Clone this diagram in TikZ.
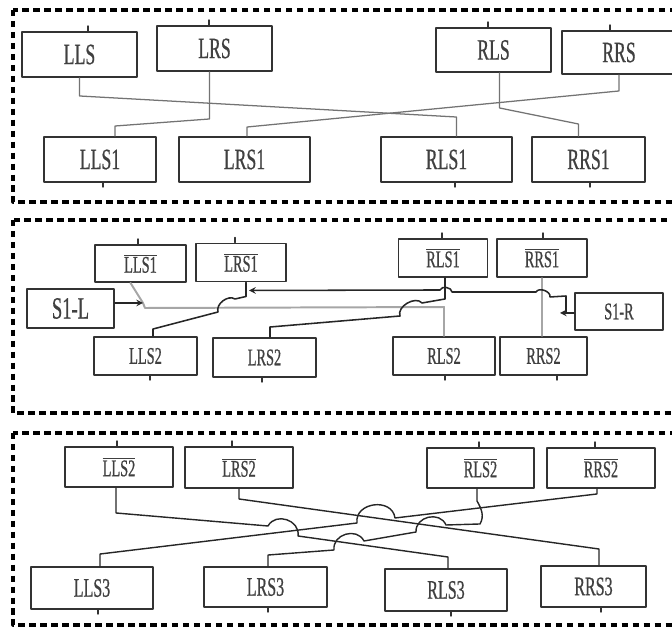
\documentclass[tikz,border=0pt]{standalone}
\usepackage{fontspec}
\newfontfamily\boxfont[FakeStretch=0.6,FakeBold=0.6]{Liberation Serif}
\usetikzlibrary{calc}
\newcommand{\nbar}[1]{$\overline{\hbox{#1}}$}
\begin{document}
\begin{tikzpicture}[x=0.025cm,y=0.025cm,line join=round,line cap=round,>=stealth]
	\def\px{0.025cm}
	\tikzset{blk/.style 2 args={draw=black!80,line width=1.4pt,fill=white,inner sep=0pt,text=black!75,minimum width=#1*\px,minimum height=#2*\px},
		fa/.style={font=\boxfont\fontsize{21}{21}\selectfont},
		fb/.style={font=\boxfont\fontsize{17}{17}\selectfont},
		fc/.style={font=\boxfont\fontsize{19}{19}\selectfont},
		panel/.style={line width=2.2pt,line cap=butt,dash pattern=on 4.6pt off 3.2pt},
		wa/.style={draw=black!55,line width=0.9pt},
		wb/.style={draw=black!85,line width=1.1pt},
		wg/.style={draw=black!35,line width=1.4pt},
		wc/.style={draw=black!85,line width=1pt},
		tick/.style={draw=black!80,line width=1pt}}
	\useasboundingbox (0,0) rectangle (672,-628);
	\clip (0,0) rectangle (672,-628);
	%panels
	\draw[panel] (13,-10) rectangle (690,-202);
	\draw[panel] (13,-220) rectangle (690,-413);
	\draw[panel] (13,-433) rectangle (690,-625);
	%first stage
	\node[blk={115}{45},fa] (LLS) at (79.5,-54.5) {LLS};
	\node[blk={115}{45},fa] (LRS) at (214.5,-48.5) {LRS};
	\node[blk={115}{44},fa] (RLS) at (493.5,-50) {RLS};
	\node[blk={114}{43},fa] (RRS) at (619,-52.5) {RRS};
	\node[blk={112}{45},fa] (LLS1) at (100,-159.5) {LLS1};
	\node[blk={131}{45},fa] (LRS1) at (244.5,-159.5) {LRS1};
	\node[blk={131}{45},fa] (RLS1) at (446.5,-159.5) {RLS1};
	\node[blk={113}{45},fa] (RRS1) at (588.5,-159.5) {RRS1};
	\draw[wa] (LLS.south) -- ++(0,-18) -- ($(RLS1.north)+(10,19)$) -- ($(RLS1.north)+(10,0)$);
	\draw[wa] ($(LRS.south)+(-5,0)$) -- ++(0,-47) -- ($(LLS1.north)+(15,10)$) -- ($(LLS1.north)+(15,0)$);
	\draw[wa] ($(RLS.south)+(6,0)$) -- ++(0,-35) -- ($(RRS1.north)+(-10,12)$) -- ($(RRS1.north)+(-10,0)$);
	\draw[wa] (RRS.south) -- ++(0,-16) -- ($(LRS1.north)+(2.5,9)$) -- ($(LRS1.north)+(2.5,0)$);
	%second stage
	\node[blk={91}{37},fb] (LLSn1) at (140.5,-263.5) {\nbar{LLS1}};
	\node[blk={90}{38},fb] (LRSn1) at (241,-262.5) {\nbar{LRS1}};
	\node[blk={89}{38},fb] (RLSn1) at (443,-258) {\nbar{RLS1}};
	\node[blk={90}{38},fb] (RRSn1) at (542,-258) {\nbar{RRS1}};
	\node[blk={87}{39},font=\boxfont\fontsize{22}{22}\selectfont] (S1L) at (70.5,-308.5) {S1-L};
	\node[blk={88}{37},fb] (S1R) at (619,-311.5) {S1-R};
	\node[blk={103}{38},fb] (LLS2) at (145.5,-356) {LLS2};
	\node[blk={103}{39},fb] (LRS2) at (264.5,-357.5) {LRS2};
	\node[blk={102}{38},fb] (RLS2) at (444,-356) {RLS2};
	\node[blk={87}{38},fb] (RRS2) at (543.5,-356) {RRS2};
	\coordinate (jl) at (143,-303);
	\coordinate (jr) at (560,-313);
	\draw[wg] ($(LLSn1.south)+(-10,0)$) -- (jl) -- ++(2,-5) -- ($(RLS2.north)+(0,29)$) -- (RLS2.north);
	\draw[wg,line width=1pt] (RRSn1.south) -- (RRSn1.south |- RRS2.north);
	\draw[wb,->] ($(S1L.east)+(0,5.5)$) -- (jl);
	\draw[wb,->] ($(S1R.west)+(0,-1.5)$) -- (jr);
	\draw[wb,->] ($(jr)+(6,0)$) -- ++(0,17) -- ($(RRSn1.south)+(8,-19)$) to[bend right=80] ($(RRSn1.south)+(-6,-14)$)
		-- ($(RLSn1.south)+(9,-14)$) to[bend right=80] ($(RLSn1.south)+(-3,-12)$) -- ($(LRSn1.south)+(8,-8)$);
	\draw[wb] ($(LRSn1.south)+(5,0)$) -- ++(0,-14) -- (235,-299) to[bend right=70] (218,-312)
		-- ($(LLS2.north)+(7.5,7)$) -- ($(LLS2.north)+(7.5,0)$);
	\draw[wb] ($(LRS2.north)+(5.5,0)$) -- ++(0,10) -- (400,-316) to[bend left=80] (422,-303)
		-- ($(RLSn1.south)+(2,-21)$) -- ($(RLSn1.south)+(2,0)$);
	%third stage
	\node[blk={108}{40},fb] (LLSn2) at (119,-467) {\nbar{LLS2}};
	\node[blk={108}{41},fb] (LRSn2) at (239,-467.5) {\nbar{LRS2}};
	\node[blk={107}{40},fb] (RLSn2) at (480.5,-468) {\nbar{RLS2}};
	\node[blk={108}{40},fb] (RRSn2) at (601,-468) {\nbar{RRS2}};
	\node[blk={122}{42},fc] (LLS3) at (92,-588) {LLS3};
	\node[blk={123}{40},fc] (LRS3) at (265.5,-587) {LRS3};
	\node[blk={122}{42},fc] (RLS3) at (446,-590) {RLS3};
	\node[blk={105}{41},fc] (RRS3) at (593.5,-586.5) {RRS3};
	\draw[wc] (LRSn2.south) -- ++(0,-10) -- ($(RRS3.north)+(5.5,16)$) -- ($(RRS3.north)+(5.5,0)$);
	\draw[wc] ($(RRSn2.south)+(-4,0)$) -- ++(0,-5) -- (395,-518) to[bend right=90,looseness=1.4] (357,-523)
		-- ($(LLS3.north)+(8,12)$) -- ($(LLS3.north)+(8,0)$);
	\draw[wc] ($(LLSn2.south)+(-3,0)$) -- ++(0,-25) -- (268,-526) to[bend left=80,looseness=1.3] (298,-536)
		-- ($(RLS3.north)+(2,11)$) -- ($(RLS3.north)+(2,0)$);
	\draw[wc] ($(RLSn2.south)+(-3.5,0)$) -- ++(0,-12) to[out=-60,in=60] ++(3,-23) -- (446,-525)
		to[bend right=80,looseness=1.3] (416,-532) -- (364,-541) to[bend right=80,looseness=1.3] (334,-550)
		-- ($(LRS3.north)+(2.5,11)$) -- ($(LRS3.north)+(2.5,0)$);
	%terminals
	\foreach \n/\dx in {LLS/8.5,LRS/-5.5,RLS/-5.5,RRS/-9,LLSn1/-2.5,LRSn1/-6,RLSn1/-1,RRSn1/1,LLSn2/-2,LRSn2/-7,RLSn2/-1.5,RRSn2/-6}
		\draw[tick] ($(\n.north)+(\dx,0)$) -- ++(0,5);
	\foreach \n/\dx in {LLS1/3,RLS1/8.5,RRS1/1.5,LLS2/4.5,LRS2/-2.5,RLS2/1,RRS2/13.5,LLS3/6,LRS3/2.5,RLS3/5,RRS3/7.5}
		\draw[tick] ($(\n.south)+(\dx,0)$) -- ++(0,-4);
\end{tikzpicture}
\end{document}
